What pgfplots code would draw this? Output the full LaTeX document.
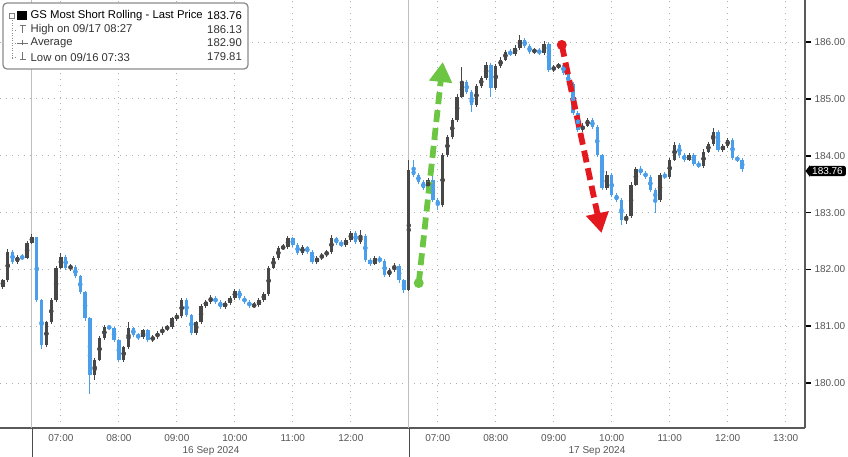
\documentclass[border=0pt]{standalone}
\usepackage{fontspec}
\setmainfont{Liberation Sans}
\usepackage{pgfplots}
\pgfplotsset{compat=1.18}
\usepackage{pgfplotstable}
\usetikzlibrary{arrows.meta}
\definecolor{upc}{HTML}{474747}
\definecolor{dnc}{HTML}{4A9EEA}
\definecolor{gridc}{HTML}{B0B0B0}
\definecolor{tickc}{HTML}{555555}
\definecolor{arrg}{HTML}{6CC644}
\definecolor{arrr}{HTML}{E3191F}
\newcommand\tf{\fontsize{10}{12}\selectfont}
\newcommand\lf{\fontsize{11.3}{12}\selectfont}

% t = minutes from 06:30 on 16 Sep (17 Sep 06:30 follows 16 Sep 13:00 at t=390)
\pgfplotstableread{
t o h l c
-30 181.69 181.84 181.66 181.81
-25 181.81 182.36 181.78 182.31
-20 182.31 182.34 182.10 182.13
-15 182.13 182.26 182.10 182.22
-10 182.22 182.27 182.16 182.20
-5 182.20 182.50 182.18 182.47
0 182.47 182.62 182.44 182.57
5 182.57 182.58 181.43 181.46
10 181.46 181.48 180.60 180.67
15 180.67 181.10 180.64 181.07
20 181.07 181.49 181.04 181.46
25 181.46 182.06 181.43 182.03
30 182.03 182.29 182.00 182.22
35 182.22 182.25 181.99 182.03
40 182.03 182.10 181.98 182.04
45 182.04 182.07 181.85 181.88
50 181.88 181.90 181.57 181.60
55 181.60 181.62 181.10 181.14
60 181.14 181.16 179.81 180.14
65 180.14 180.45 180.05 180.41
70 180.41 180.82 180.38 180.79
75 180.79 181.03 180.76 180.99
80 180.99 181.03 180.93 180.97
85 180.97 180.99 180.72 180.76
90 180.76 180.78 180.37 180.41
95 180.41 180.66 180.38 180.63
100 180.63 181.07 180.60 180.97
105 180.97 180.99 180.81 180.85
110 180.85 180.88 180.76 180.81
115 180.81 180.96 180.78 180.93
120 180.93 180.95 180.73 180.76
125 180.76 180.85 180.72 180.81
130 180.81 180.92 180.78 180.88
135 180.88 180.99 180.85 180.95
140 180.95 181.03 180.92 180.99
145 180.99 181.17 180.96 181.14
150 181.14 181.23 181.10 181.18
155 181.18 181.50 181.15 181.46
160 181.46 181.49 181.16 181.20
165 181.20 181.22 180.84 180.88
170 180.88 181.10 180.85 181.07
175 181.07 181.39 181.04 181.36
180 181.36 181.47 181.33 181.43
185 181.43 181.55 181.40 181.50
190 181.50 181.53 181.39 181.43
195 181.43 181.46 181.30 181.34
200 181.34 181.45 181.31 181.41
205 181.41 181.54 181.38 181.50
210 181.50 181.66 181.47 181.62
215 181.62 181.65 181.47 181.50
220 181.50 181.53 181.39 181.43
225 181.43 181.46 181.32 181.36
230 181.36 181.42 181.32 181.37
235 181.37 181.49 181.34 181.46
240 181.46 181.60 181.43 181.57
245 181.57 182.06 181.54 182.03
250 182.03 182.24 182.00 182.20
255 182.20 182.42 182.17 182.38
260 182.38 182.44 182.34 182.39
265 182.39 182.59 182.36 182.55
270 182.55 182.58 182.40 182.43
275 182.43 182.46 182.25 182.29
280 182.29 182.43 182.26 182.39
285 182.39 182.42 182.27 182.31
290 182.31 182.34 182.10 182.13
295 182.13 182.24 182.10 182.20
300 182.20 182.29 182.17 182.25
305 182.25 182.35 182.22 182.31
310 182.31 182.60 182.28 182.55
315 182.55 182.58 182.43 182.47
320 182.47 182.51 182.39 182.43
325 182.43 182.56 182.40 182.52
330 182.52 182.68 182.49 182.64
335 182.64 182.67 182.45 182.48
340 182.48 182.70 182.45 182.59
345 182.59 182.62 182.13 182.17
350 182.17 182.20 182.06 182.10
355 182.10 182.24 182.07 182.20
360 182.20 182.23 182.11 182.15
365 182.15 182.18 181.86 181.90
370 181.90 182.03 181.87 181.99
375 181.99 182.12 181.96 182.06
380 182.06 182.09 181.77 181.81
385 181.81 181.84 181.58 181.64
390 181.64 183.93 181.62 183.75
395 183.75 183.92 183.62 183.66
400 183.66 183.70 183.50 183.54
405 183.54 183.57 183.39 183.43
410 183.43 183.61 183.40 183.57
415 183.57 183.75 183.18 183.22
420 183.22 183.26 183.05 183.13
425 183.13 184.05 183.10 184.01
430 184.01 184.37 183.98 184.33
435 184.33 184.67 184.30 184.63
440 184.63 185.08 184.60 185.04
445 185.04 185.56 185.01 185.30
450 185.30 185.33 185.08 185.12
455 185.12 185.15 184.77 184.89
460 184.89 185.27 184.86 185.23
465 185.23 185.41 185.20 185.37
470 185.37 185.65 185.34 185.60
475 185.60 185.63 185.04 185.19
480 185.19 185.62 185.16 185.58
485 185.58 185.73 185.55 185.69
490 185.69 185.87 185.66 185.83
495 185.83 185.87 185.75 185.79
500 185.79 185.95 185.76 185.90
505 185.90 186.13 185.87 186.04
510 186.04 186.07 185.89 185.93
515 185.93 185.96 185.79 185.83
520 185.83 185.90 185.79 185.86
525 185.86 185.89 185.77 185.81
530 185.81 186.02 185.78 185.97
535 185.97 186.00 185.47 185.51
540 185.51 185.60 185.47 185.56
545 185.56 185.64 185.52 185.60
550 185.60 185.63 185.42 185.46
555 185.46 185.49 185.22 185.26
560 185.26 185.29 184.71 184.75
565 184.75 184.78 184.41 184.45
570 184.45 184.57 184.42 184.53
575 184.53 184.67 184.50 184.63
580 184.63 184.66 184.47 184.51
585 184.51 184.54 183.97 184.01
590 184.01 184.04 183.39 183.43
595 183.43 183.73 183.40 183.66
600 183.66 183.69 183.27 183.31
605 183.31 183.35 183.18 183.22
610 183.22 183.25 182.78 182.87
615 182.87 182.98 182.80 182.94
620 182.94 183.53 182.91 183.49
625 183.49 183.81 183.46 183.77
630 183.77 183.82 183.66 183.70
635 183.70 183.74 183.59 183.63
640 183.63 183.66 183.36 183.40
645 183.40 183.43 182.99 183.22
650 183.22 183.70 183.19 183.66
655 183.66 183.71 183.59 183.63
660 183.63 183.97 183.60 183.93
665 183.93 184.24 183.90 184.19
670 184.19 184.22 183.97 184.01
675 184.01 184.05 183.89 183.93
680 183.93 184.05 183.90 184.01
685 184.01 184.04 183.82 183.86
690 183.86 183.90 183.78 183.82
695 183.82 184.11 183.79 184.07
700 184.07 184.25 184.04 184.21
705 184.21 184.49 184.18 184.42
710 184.42 184.45 184.06 184.10
715 184.10 184.21 184.07 184.17
720 184.17 184.32 184.14 184.28
725 184.28 184.31 183.92 183.96
730 183.96 184.00 183.89 183.93
735 183.93 183.96 183.72 183.76
}\candles

\begin{document}
\begin{tikzpicture}
\begin{axis}[
  at={(0pt,0pt)}, anchor=north west,
  scale only axis, width=805pt, height=428pt,
  xmin=-33, xmax=800, ymin=179.21, ymax=186.74,
  axis x line*=bottom, axis y line*=right,
  axis line style={draw=black!65, line width=1.3pt},
  xtick={30,90,150,210,270,330,420,480,540,600,660,720,780},
  xticklabels={07:00,08:00,09:00,10:00,11:00,12:00,07:00,08:00,09:00,10:00,11:00,12:00,13:00},
  ytick={180,181,182,183,184,185,186},
  grid=major,
  major grid style={gridc, line width=0.9pt, dash pattern=on 1.2pt off 4.8pt},
  tick align=outside,
  major tick length=6pt,
  xtick style={draw=none},
  ytick style={black, line width=1.8pt},
  ticklabel style={font=\tf, text=tickc},
  /pgf/number format/fixed, /pgf/number format/fixed zerofill,
  /pgf/number format/precision=2, /pgf/number format/assume math mode=true,
  xticklabel style={yshift=3pt},
]
\draw[black!25, line width=1pt] (axis cs:0,179.21) -- (axis cs:0,186.74);
\draw[black!25, line width=1pt] (axis cs:390,179.21) -- (axis cs:390,186.74);

% wicks
\addplot[only marks, mark=none, upc, restrict expr to domain={\thisrow{c}-\thisrow{o}}{0:100},
  error bars/.cd, y dir=both, y explicit, error mark=none, error bar style={line width=1pt, draw=upc}]
  table[x=t, y expr={(\thisrow{h}+\thisrow{l})/2}, y error expr={(\thisrow{h}-\thisrow{l})/2}] {\candles};
\addplot[only marks, mark=none, dnc, restrict expr to domain={\thisrow{c}-\thisrow{o}}{-100:-0.001},
  error bars/.cd, y dir=both, y explicit, error mark=none, error bar style={line width=1pt, draw=dnc}]
  table[x=t, y expr={(\thisrow{h}+\thisrow{l})/2}, y error expr={(\thisrow{h}-\thisrow{l})/2}] {\candles};
% bodies
\addplot[only marks, mark=none, upc, restrict expr to domain={\thisrow{c}-\thisrow{o}}{0:100},
  error bars/.cd, y dir=both, y explicit, error mark=none, error bar style={line width=3.4pt, draw=upc}]
  table[x=t, y expr={(\thisrow{o}+\thisrow{c})/2}, y error expr={abs(\thisrow{c}-\thisrow{o})/2}] {\candles};
\addplot[only marks, mark=none, dnc, restrict expr to domain={\thisrow{c}-\thisrow{o}}{-100:-0.001},
  error bars/.cd, y dir=both, y explicit, error mark=none, error bar style={line width=3.4pt, draw=dnc}]
  table[x=t, y expr={(\thisrow{o}+\thisrow{c})/2}, y error expr={abs(\thisrow{c}-\thisrow{o})/2}] {\candles};

% annotation arrows
\draw[arrg, line width=5.8pt, dash pattern=on 12pt off 6pt, -{Triangle[length=20pt,width=22pt]}]
  (axis cs:400.3,181.76) -- (axis cs:425.2,185.65);
\fill[arrg] (axis cs:400.3,181.76) circle[radius=5pt];
\draw[arrr, line width=5.8pt, dash pattern=on 12pt off 6pt, -{Triangle[length=20pt,width=22pt]}]
  (axis cs:548.3,185.95) -- (axis cs:589.4,182.64);
\fill[arrr] (axis cs:548.3,185.95) circle[radius=5pt];
\end{axis}

\begin{scope}[x=1pt,y=1pt]
% day separators below the axis
\draw[black!70, line width=1pt] (32,-428) -- (32,-457);
\draw[black!70, line width=1pt] (409,-428) -- (409,-457);
\node[font=\tf, text=tickc] at (211,-451) {16 Sep 2024};
\node[font=\tf, text=tickc] at (597,-451) {17 Sep 2024};

% legend
\draw[rounded corners=4pt, draw=black!45, line width=1.3pt, fill=white] (3,-3) rectangle (248,-69);
\draw[black!45, line width=0.8pt, dash pattern=on 1pt off 1.5pt] (12,-18) -- (12,-60);
\draw[black!45, line width=0.8pt, dash pattern=on 1pt off 1.5pt] (12,-30) -- (17,-30);
\draw[black!45, line width=0.8pt, dash pattern=on 1pt off 1.5pt] (12,-43) -- (17,-43);
\draw[black!45, line width=0.8pt, dash pattern=on 1pt off 1.5pt] (12,-57) -- (17,-57);
\draw[black!50, line width=0.8pt] (9.5,-13.5) rectangle (14,-18);
\fill[black] (17,-11.5) rectangle (27,-20.5);
\draw[black!55, line width=0.9pt] (19.5,-25.5) -- (25.5,-25.5) (22.5,-25.5) -- (22.5,-33);
\draw[black!55, line width=0.9pt] (17,-43) -- (28,-43) (22.5,-40.5) -- (22.5,-45.5);
\draw[black!55, line width=0.9pt] (19.5,-59.5) -- (25.5,-59.5) (22.5,-59.5) -- (22.5,-52);
\node[font=\lf, anchor=west, inner sep=0pt] at (30.5,-16) {GS Most Short Rolling - Last Price};
\node[font=\lf, anchor=west, inner sep=0pt, text=black!80] at (30.5,-29.5) {High on 09/17 08:27};
\node[font=\lf, anchor=west, inner sep=0pt, text=black!80] at (30.5,-43) {Average};
\node[font=\lf, anchor=west, inner sep=0pt, text=black!80] at (30.5,-57) {Low on 09/16 07:33};
\node[font=\lf, anchor=east, inner sep=0pt] at (242,-16) {183.76};
\node[font=\lf, anchor=east, inner sep=0pt, text=black!80] at (242,-29.5) {186.13};
\node[font=\lf, anchor=east, inner sep=0pt, text=black!80] at (242,-43) {182.90};
\node[font=\lf, anchor=east, inner sep=0pt, text=black!80] at (242,-57) {179.81};

% last price tag
\fill[black] (805.5,-171) -- (810,-165) -- (810,-177) -- cycle;
\node[fill=black, text=white, rounded corners=2pt, inner xsep=3pt, inner ysep=1.5pt, font=\tf, anchor=west] at (809,-171) {183.76};

\pgfresetboundingbox
\path[use as bounding box] (0,0) rectangle (848,-457);
\end{scope}
\end{tikzpicture}
\end{document}
